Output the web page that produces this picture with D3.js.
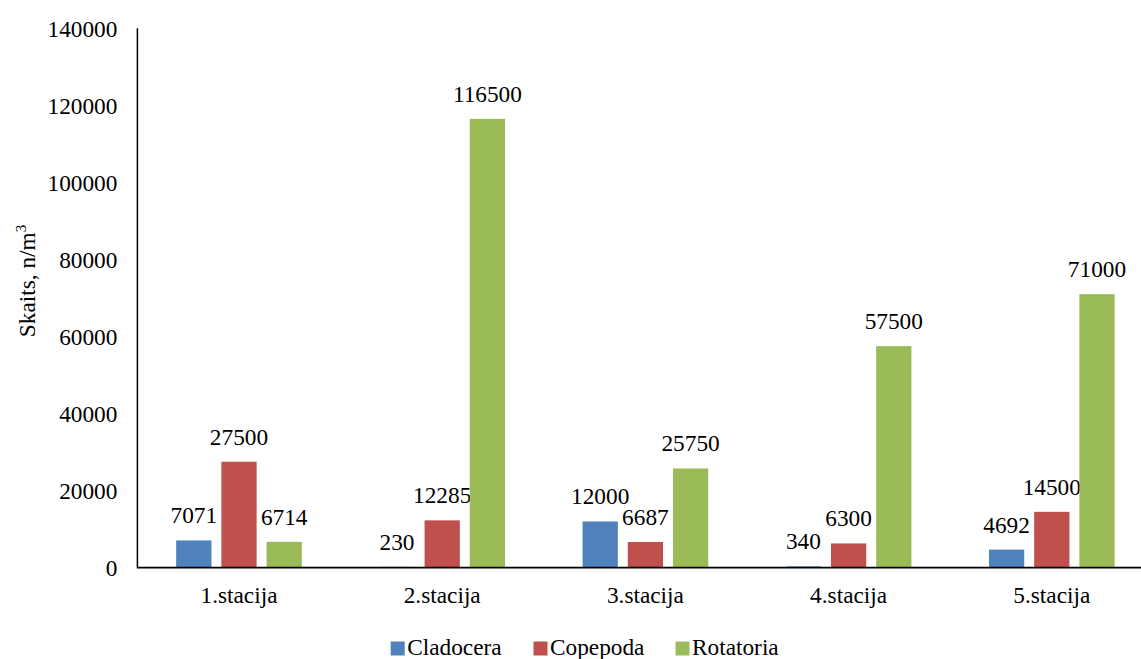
<!DOCTYPE html>
<html>
<head>
<meta charset="utf-8">
<script src="https://cdn.jsdelivr.net/npm/d3@7"></script>
</head>
<body style="margin:0">
<svg id="chart" width="1141" height="659"></svg>
<script>
// Zooplankton abundance per station
const stations = ["1.stacija", "2.stacija", "3.stacija", "4.stacija", "5.stacija"];
const seriesNames = ["Cladocera", "Copepoda", "Rotatoria"];
const cladocera = [7071, 230, 12000, 340, 4692];
const copepoda = [27500, 12285, 6687, 6300, 14500];
const rotatoria = [6714, 116500, 25750, 57500, 71000];
const yTicks = [0, 20000, 40000, 60000, 80000, 100000, 120000, 140000];
const colors = ["#4F81BD", "#C0504D", "#9BBB59"];

const seriesValues = [cladocera, copepoda, rotatoria];

const svg = d3.select("#chart");
const fontSize = 23.3;
const serif = "'Liberation Serif'";

const left = 137.4, bandW = 203.2;
const x0 = d3.scaleBand().domain(stations)
  .range([left, left + bandW * stations.length])
  .paddingInner(0).paddingOuter(0);
const groupW = 135.6;
const x1 = d3.scaleBand().domain(seriesNames)
  .range([bandW / 2 - groupW / 2, bandW / 2 + groupW / 2])
  .paddingInner(0.22).paddingOuter(0.11);
const y = d3.scaleLinear().domain([0, 140000]).range([567.7, 28.3]);
const color = d3.scaleOrdinal().domain(seriesNames).range(colors);

// Bars
const groups = svg.append("g").selectAll("g")
  .data(stations)
  .join("g")
  .attr("transform", d => `translate(${x0(d)},0)`);

const cells = groups.selectAll("g")
  .data((d, i) => seriesNames.map((s, j) => ({ s, v: seriesValues[j][i] })))
  .join("g");

cells.append("rect")
  .attr("x", d => x1(d.s))
  .attr("width", x1.bandwidth())
  .attr("y", d => y(d.v))
  .attr("height", d => y(0) - y(d.v))
  .attr("fill", d => color(d.s));

// Value labels above bars
cells.append("text")
  .attr("x", d => x1(d.s) + x1.bandwidth() / 2)
  .attr("y", d => y(d.v) - 17)
  .attr("text-anchor", "middle")
  .attr("font-size", fontSize)
  .style("font-family", serif)
  .attr("fill", "#000")
  .text(d => d.v);

// Y axis
const yAxis = d3.axisLeft(y).tickValues(yTicks).tickSize(0).tickPadding(20).tickFormat(d3.format("d"));
const gy = svg.append("g").attr("transform", `translate(${left},0)`).call(yAxis)
  .attr("font-size", fontSize).attr("font-family", null).style("font-family", serif);
gy.select(".domain").remove();
gy.selectAll("text")
  .attr("fill", "#000")
  .attr("dy", "0.33em");
svg.append("line")
  .attr("x1", left).attr("x2", left)
  .attr("y1", y(140000)).attr("y2", y(0) + 0.5)
  .attr("stroke", "#000").attr("stroke-width", 1.5);

// X axis
const xAxis = d3.axisBottom(x0).tickSize(0).tickPadding(0);
const gx = svg.append("g").attr("transform", `translate(0,${y(0)})`).call(xAxis)
  .attr("font-size", fontSize).attr("font-family", null).style("font-family", serif);
gx.select(".domain").remove();
gx.selectAll("text")
  .attr("fill", "#000")
  .attr("y", 35.3)
  .attr("dy", 0);
svg.append("line")
  .attr("x1", left).attr("x2", left + bandW * stations.length)
  .attr("y1", y(0)).attr("y2", y(0))
  .attr("stroke", "#000").attr("stroke-width", 1.8);

// Y axis title
const title = svg.append("text")
  .attr("transform", "translate(35,281) rotate(-90)")
  .attr("text-anchor", "middle")
  .attr("font-size", fontSize)
  .style("font-family", serif)
  .attr("fill", "#000");
title.append("tspan").text("Skaits, n/m");
title.append("tspan").attr("font-size", fontSize * 0.65).attr("dy", -9).text("3");

// Legend
const legendItems = [
  { s: "Cladocera", x: 390.7 },
  { s: "Copepoda", x: 533.5 },
  { s: "Rotatoria", x: 675.5 }
];
const legend = svg.append("g").selectAll("g")
  .data(legendItems)
  .join("g")
  .attr("transform", d => `translate(${d.x},0)`);
legend.append("rect")
  .attr("x", 0).attr("y", 641.5)
  .attr("width", 14).attr("height", 14)
  .attr("fill", d => color(d.s));
legend.append("text")
  .attr("x", 16.5).attr("y", 655)
  .attr("font-size", fontSize)
  .style("font-family", serif)
  .attr("fill", "#000")
  .text(d => d.s);
</script>
</body>
</html>
